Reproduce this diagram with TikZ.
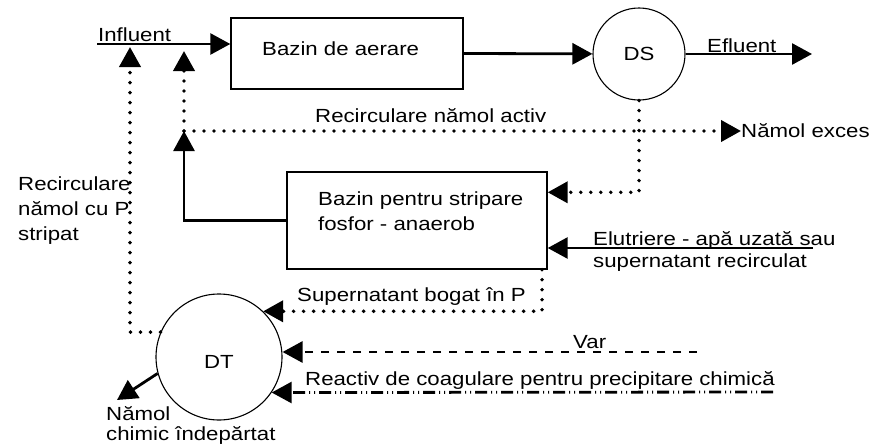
\documentclass[tikz,border=0pt]{standalone}
\usepackage{fontspec}
\setmainfont{Liberation Sans}[FakeStretch=1.17]
\usetikzlibrary{arrows.meta,calc,positioning}

\begin{document}
\begin{tikzpicture}[x=1pt, y=-1pt, font=\fontsize{19}{25}\selectfont]
    \tikzset{
        tank/.style={draw=black, line width=1.4pt, inner sep=0pt},
        settler/.style={circle, draw=black, line width=1.1pt, inner sep=0pt},
        lbl/.style={anchor=base west, inner sep=0pt, align=left},
        tip/.style={-{Triangle[length=20pt,width=21pt]}},
        flow/.style={tip, draw=black, line width=2.8pt},
        sludge/.style={tip, draw=black, line width=3.9pt, line cap=round, dash pattern=on 0pt off 10pt},
        lime/.style={tip, draw=black, line width=2.8pt, dash pattern=on 8pt off 8pt},
        coag/.style={tip, draw=black, line width=2.8pt, dash pattern=on 12pt off 4pt on 1pt off 4pt on 1pt off 4pt}
    }

    \useasboundingbox (0,0) rectangle (872,447);

    % Tanks and settlers
    \node[tank, minimum width=232pt, minimum height=71pt] (aer) at (347,53.5) {};
    \node[tank, minimum width=260pt, minimum height=97pt] (strip) at (417,220.5) {};
    \node[settler, minimum size=92pt] (DS) at (639,54) {DS};
    \node[settler, minimum size=126pt, text height=23.6pt, text depth=0pt] (DT) at (219,357) {DT};

    % Free ends of the streams
    \coordinate (infl) at (97,44);
    \coordinate (rj) at (184,131);
    \coordinate (rin) at (184,51);
    \coordinate (ptop) at (130,47);
    \coordinate (efl) at (812,54);
    \coordinate (elu) at (813,248);
    \coordinate (sup) at (542,312);
    \coordinate (lime) at (697,352);
    \coordinate (coag) at (773,392);
    \coordinate (chem) at (117,400);

    % Labels (multi-line ones sit on their last baseline)
    \node[lbl] (inflT) at (98,41) {Influent};
    \node[lbl] (aerT) at (262,55) {Bazin de aerare};
    \node[lbl] (eflT) at (707,52) {Efluent};
    \node[lbl] (racT) at (315,122) {Recirculare nămol activ};
    \node[lbl] (exces) at (741,137) {Nămol exces};
    \node[lbl] (stripT) at (318,230) {Bazin pentru stripare\\fosfor - anaerob};
    \node[lbl] (rpT) at (18,240) {Recirculare\\nămol cu P\\stripat};
    \node[lbl, font=\fontsize{19}{22}\selectfont] (eluT) at (593,267) {Elutriere - apă uzată sau\\supernatant recirculat};
    \node[lbl] (supT) at (297,301) {Supernatant bogat în P};
    \node[lbl] (limeT) at (573,348) {Var};
    \node[lbl] (coagT) at (305,385) {Reactiv de coagulare pentru precipitare chimică};
    \node[lbl, font=\fontsize{19}{20}\selectfont] (chemT) at (106,440) {Nămol\\chimic îndepărtat};

    % Main line
    \draw[flow] (infl) -- (infl -| aer.west);
    \draw[flow] (aer.east) -- (DS);
    \draw[flow] (DS.east) -- (efl);
    \draw[flow] (elu) -- (elu -| strip.east);

    % Sludge recirculation
    \draw[flow] (strip.west) -| (rj);
    \draw[sludge] (rj) -- (rin);
    \draw[sludge] (rj) -- (rj -| exces.west);
    \draw[sludge] (DS.south) |- ($(strip.north east)+(0,21)$);
    \draw[sludge] (strip.south -| sup) |- (DT.46);
    \draw[sludge] (DT.157) -| (ptop);

    % Chemicals and chemical sludge
    \draw[lime] (lime) -- (lime -| DT.east);
    \draw[coag] (coag) -- (DT.-34);
    \draw[flow] (DT.195) -- (chem);
\end{tikzpicture}
\end{document}
